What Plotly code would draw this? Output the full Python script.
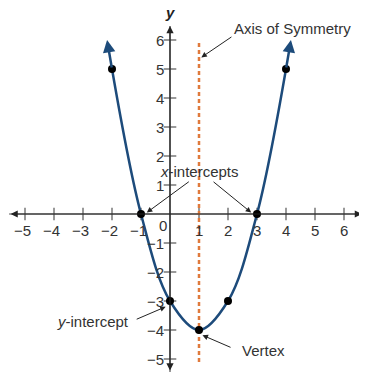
import plotly.graph_objects as go

# points on the parabola y = x^2 - 2x - 3
pt_x = [-2, -1, 0, 1, 2, 3, 4]
pt_y = [5, 0, -3, -4, -3, 0, 5]

# where the curve's arrowheads end
end_left = (-2.17, 6.0)
end_right = (4.17, 6.0)

x_ticks = [-5, -4, -3, -2, -1, 1, 2, 3, 4, 5, 6]
y_ticks = [-5, -4, -3, -2, -1, 1, 2, 3, 4, 5, 6]

sym_x = 1
sym_y = [-5.1, 6]

BLUE = "#1d4b7b"
ORANGE = "#e07a3c"
AXIS = "#555555"
TXT = "#333333"
FONT = "Liberation Sans, Arial, sans-serif"

# the page puts the figure 8px in from the top-left corner
OFF = 8
UNIT = 29

fig = go.Figure()

# axes
fig.add_annotation(x=6.62, y=0, ax=-5.55, ay=0, xref="x", yref="y", axref="x", ayref="y",
                   showarrow=True, arrowhead=2, arrowside="end+start", arrowsize=1.2,
                   arrowwidth=1.2, arrowcolor="#222", text="")
fig.add_annotation(x=0, y=6.48, ax=0, ay=-5.45, xref="x", yref="y", axref="x", ayref="y",
                   showarrow=True, arrowhead=2, arrowside="end+start", arrowsize=1.2,
                   arrowwidth=1.2, arrowcolor="#222", text="")
fig.add_trace(go.Scatter(x=[-5.55, 6.62], y=[0, 0], mode="lines",
                         line=dict(color=AXIS, width=1.2), hoverinfo="skip"))
fig.add_trace(go.Scatter(x=[0, 0], y=[-5.45, 6.48], mode="lines",
                         line=dict(color=AXIS, width=1.2), hoverinfo="skip"))

# tick marks
fig.add_trace(go.Scatter(x=x_ticks, y=[0] * len(x_ticks), mode="markers",
                         marker=dict(symbol="line-ns", size=9,
                                     line=dict(color=AXIS, width=1.2)), hoverinfo="skip"))
fig.add_trace(go.Scatter(x=[0] * len(y_ticks), y=y_ticks, mode="markers",
                         marker=dict(symbol="line-ew", size=9,
                                     line=dict(color=AXIS, width=1.2)), hoverinfo="skip"))

# tick labels
for v in x_ticks:
    lab = f"\u2212{abs(v)}" if v < 0 else str(v)
    fig.add_annotation(x=v, y=0, text=lab, showarrow=False, yshift=-16,
                       xshift=-3 if v < 0 else 0,
                       font=dict(family=FONT, size=15, color=TXT))
for v in y_ticks:
    lab = f"\u2212{abs(v)}" if v < 0 else str(v)
    fig.add_annotation(x=0, y=v, text=lab, showarrow=False, xanchor="right", xshift=-4,
                       font=dict(family=FONT, size=15, color=TXT))
fig.add_annotation(x=0, y=0, text="0", showarrow=False, xanchor="right", xshift=-1,
                   yshift=-11, font=dict(family=FONT, size=15, color=TXT))
fig.add_annotation(x=6.68, y=0, text="<b><i>x</i></b>", showarrow=False, xanchor="left",
                   font=dict(family=FONT, size=15, color="#222"))
fig.add_annotation(x=0, y=6.6, text="<b><i>y</i></b>", showarrow=False, yanchor="bottom",
                   font=dict(family=FONT, size=15, color="#222"))

# axis of symmetry
fig.add_trace(go.Scatter(x=[sym_x, sym_x], y=sym_y, mode="lines",
                         line=dict(color=ORANGE, width=2.5, dash="4px,3px"), hoverinfo="skip"))

# parabola
fig.add_trace(go.Scatter(x=pt_x, y=pt_y, mode="lines", line=dict(color=BLUE, width=2.5, shape="spline"),
                         hoverinfo="skip"))
fig.add_annotation(x=end_left[0], y=end_left[1], ax=pt_x[0], ay=pt_y[0], xref="x", yref="y",
                   axref="x", ayref="y", showarrow=True, arrowhead=2, arrowsize=1,
                   arrowwidth=2.5, arrowcolor=BLUE, text="")
fig.add_annotation(x=end_right[0], y=end_right[1], ax=pt_x[-1], ay=pt_y[-1], xref="x", yref="y",
                   axref="x", ayref="y", showarrow=True, arrowhead=2, arrowsize=1,
                   arrowwidth=2.5, arrowcolor=BLUE, text="")
fig.add_trace(go.Scatter(x=pt_x, y=pt_y, mode="markers",
                         marker=dict(color="black", size=8), hoverinfo="skip"))


# callouts: arrow from text (tail) to the feature (head)
def pointer(tx, ty, hx, hy):
    fig.add_annotation(x=hx, y=hy, ax=tx, ay=ty, xref="x", yref="y", axref="x", ayref="y",
                       showarrow=True, arrowhead=2, arrowsize=1.1, arrowwidth=1,
                       arrowcolor="#222", text="")


def label(x, y, text, anchor="center"):
    fig.add_annotation(x=x, y=y, text=text, showarrow=False, xanchor=anchor,
                       font=dict(family=FONT, size=15, color=TXT))


pointer(2.17, 6.14, 1.08, 5.4)
label(4.24, 6.4, "Axis of Symmetry")
pointer(0.7, 1.15, -0.8, 0.05)
pointer(1.45, 1.15, 2.8, 0.05)
label(1.0, 1.45, "<i>x</i>-intercepts")
pointer(-1.2, -3.65, -0.15, -3.2)
label(-1.35, -3.72, "<i>y</i>-intercept", "right")
pointer(2.14, -4.62, 1.12, -4.18)
label(2.4, -4.7, "Vertex", "left")

fig.update_layout(
    width=367, height=374, margin=dict(l=0, r=0, t=0, b=0),
    paper_bgcolor="white", plot_bgcolor="white", showlegend=False,
    xaxis=dict(range=[(OFF - 170) / UNIT, (OFF + 367 - 170) / UNIT], visible=False, fixedrange=True),
    yaxis=dict(range=[(214 - OFF - 374) / UNIT, (214 - OFF) / UNIT], visible=False, fixedrange=True),
)
fig.write_html("out.html")
